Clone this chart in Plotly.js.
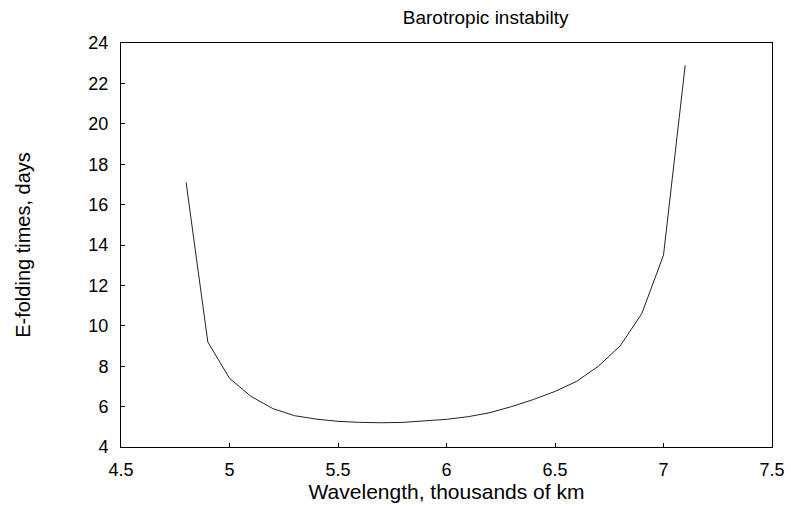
<!DOCTYPE html>
<html>
<head>
<meta charset="utf-8">
<script src="https://cdn.plot.ly/plotly-3.0.1.min.js"></script>
<style>html,body{margin:0;padding:0;background:#fff;}#chart{width:791px;height:509px;}</style>
</head>
<body>
<div id="chart"></div>
<script>
const wavelength = [4.8, 4.9, 5.0, 5.1, 5.2, 5.3, 5.4, 5.5, 5.6, 5.7, 5.8, 5.9, 6.0, 6.1, 6.2, 6.3, 6.4, 6.5, 6.6, 6.7, 6.8, 6.9, 7.0, 7.1];
const efoldDays = [17.1, 9.2, 7.4, 6.5, 5.9, 5.55, 5.38, 5.27, 5.22, 5.2, 5.22, 5.28, 5.37, 5.5, 5.7, 6.0, 6.35, 6.75, 7.25, 8.0, 9.0, 10.6, 13.5, 22.9];
const xTicks = [4.5, 5, 5.5, 6, 6.5, 7, 7.5];
const yTicks = [4, 6, 8, 10, 12, 14, 16, 18, 20, 22, 24];

const font = {family: 'Arial, "Liberation Sans", sans-serif', color: '#000'};
Plotly.newPlot('chart', [{
  x: wavelength, y: efoldDays, type: 'scatter', mode: 'lines',
  line: {color: '#222', width: 1}, hoverinfo: 'skip'
}], {
  width: 791, height: 509,
  margin: {l: 121, r: 19, t: 43, b: 62},
  paper_bgcolor: '#fff', plot_bgcolor: '#fff',
  showlegend: false,
  title: {text: 'Barotropic instabilty', x: 0.614, xanchor: 'center', y: 0.965, yanchor: 'middle', font: Object.assign({size: 19}, font)},
  xaxis: {
    range: [4.5, 7.5], tickvals: xTicks, ticktext: xTicks.map(String),
    ticks: 'inside', ticklen: 4, tickcolor: '#000', showgrid: false, zeroline: false,
    showline: true, linecolor: '#000', linewidth: 1, mirror: true,
    tickfont: Object.assign({size: 18}, font), ticklabelstandoff: 6,
    title: {text: 'Wavelength, thousands of km', font: Object.assign({size: 21}, font), standoff: 3}
  },
  yaxis: {
    range: [4, 24], tickvals: yTicks, ticktext: yTicks.map(String),
    ticks: 'inside', ticklen: 4, tickcolor: '#000', showgrid: false, zeroline: false,
    showline: true, linecolor: '#000', linewidth: 1, mirror: true,
    tickfont: Object.assign({size: 18}, font), ticklabelstandoff: 8,
    title: {text: 'E-folding times, days', font: Object.assign({size: 20}, font), standoff: 52}
  }
}, {staticPlot: true, displayModeBar: false});
</script>
</body>
</html>
